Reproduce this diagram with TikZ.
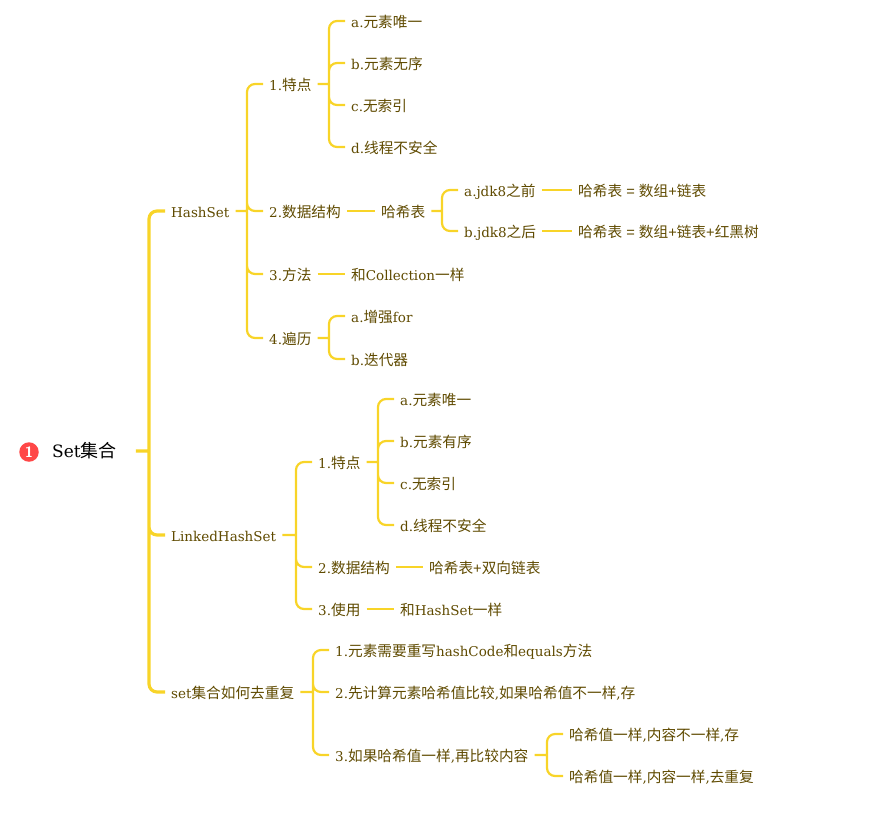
\documentclass[tikz,border=0pt]{standalone}
\usepackage{fontspec}
\setmainfont{DejaVu Serif}
\newfontfamily\cjk{Noto Sans CJK SC}
\newfontfamily\symf{Liberation Sans}
\newcommand{\zh}[1]{{\fontsize{14.67}{16}\cjk #1}}
\newcommand{\zhbig}[1]{{\fontsize{18}{20}\cjk #1}}
\newcommand{\sy}[1]{{\fontsize{14.67}{16}\symf #1}}
\usetikzlibrary{calc}
\definecolor{mapline}{HTML}{F8D428}
\definecolor{maptext}{HTML}{5F4A00}
\tikzset{
  item/.style={anchor=west,inner xsep=6pt,inner ysep=0pt,text height=13pt,text depth=0pt,
    text=maptext,font=\fontsize{13.5}{16}\selectfont},
  rootitem/.style={item,inner xsep=13pt,text=black,font=\fontsize{17}{20}\selectfont},
  badge/.style={circle,fill=red!72!white,text=white,inner sep=0pt,minimum size=19.5pt,
    font=\sffamily\bfseries\fontsize{15}{16}\selectfont},
  stub/.style={draw=mapline,line width=2.2pt},
  branch/.style={draw=mapline,line width=2.2pt,
    to path={(\tikztostart) -- ($(\tikztostart -| \tikztotarget)+(-16,0)$)
      ($(\tikztostart -| \tikztotarget)+(-16,0)$) [rounded corners=8pt]
      -- ($(\tikztotarget)+(-16,0)$) -- (\tikztotarget)}},
}
\begin{document}
\begin{tikzpicture}[x=1pt,y=-1pt]
  \useasboundingbox (0,0) rectangle (882,815);
  \node[badge] (mark) at (29,452) {1};
  \node[rootitem] (set) at (39,451) {Set\zhbig{集合}\kern6pt};
  % first level
  \node[item] (hash) at (165,211) {HashSet};
  \node[item] (linked) at (165,535) {LinkedHashSet};
  \node[item] (dedup) at (165,692) {set\zh{集合如何去重复}};
  % HashSet
  \node[item] (hfeat) at (263,84) {1.\zh{特点}};
  \node[item] (hdata) at (263,211) {2.\zh{数据结构}};
  \node[item] (hmeth) at (263,274) {3.\zh{方法}};
  \node[item] (hloop) at (263,338) {4.\zh{遍历}};
  \node[item] (hfa) at (345,21) {a.\zh{元素唯一}};
  \node[item] (hfb) at (345,63) {b.\zh{元素无序}};
  \node[item] (hfc) at (345,105) {c.\zh{无索引}};
  \node[item] (hfd) at (345,147) {d.\zh{线程不安全}};
  \node[item] (htable) at (375,211) {\zh{哈希表}};
  \node[item] (hbefore) at (458,190) {a.jdk8\zh{之前}};
  \node[item] (hafter) at (458,231) {b.jdk8\zh{之后}};
  \node[item] (hbeforeval) at (572,190) {\zh{哈希表}\sy{ = }\zh{数组}\sy{+}\zh{链表}};
  \node[item] (hafterval) at (572,231) {\zh{哈希表}\sy{ = }\zh{数组}\sy{+}\zh{链表}\sy{+}\zh{红黑树}};
  \node[item] (hsame) at (345,274) {\zh{和}Collection\zh{一样}};
  \node[item] (hla) at (345,316) {a.\zh{增强}for};
  \node[item] (hlb) at (345,359) {b.\zh{迭代器}};
  % LinkedHashSet
  \node[item] (lfeat) at (312,462) {1.\zh{特点}};
  \node[item] (ldata) at (312,567) {2.\zh{数据结构}};
  \node[item] (luse) at (312,609) {3.\zh{使用}};
  \node[item] (lfa) at (394,399) {a.\zh{元素唯一}};
  \node[item] (lfb) at (394,441) {b.\zh{元素有序}};
  \node[item] (lfc) at (394,483) {c.\zh{无索引}};
  \node[item] (lfd) at (394,525) {d.\zh{线程不安全}};
  \node[item] (ltable) at (423,567) {\zh{哈希表}\sy{+}\zh{双向链表}};
  \node[item] (lsame) at (394,609) {\zh{和}HashSet\zh{一样}};
  % duplicates
  \node[item] (done) at (329,650) {1.\zh{元素需要重写}hashCode\zh{和}equals\zh{方法}};
  \node[item] (dtwo) at (329,692) {2.\zh{先计算元素哈希值比较},\zh{如果哈希值不一样},\zh{存}};
  \node[item] (dthree) at (329,755) {3.\zh{如果哈希值一样},\zh{再比较内容}};
  \node[item] (dkeep) at (563,734) {\zh{哈希值一样},\zh{内容不一样},\zh{存}};
  \node[item] (ddrop) at (563,776) {\zh{哈希值一样},\zh{内容一样},\zh{去重复}};
  % connectors
  \draw[branch,line width=3.2pt] (set.east) to (hash.west) (set.east) to (linked.west) (set.east) to (dedup.west);
  \draw[branch] (hash.east) to (hfeat.west) (hash.east) to (hdata.west) (hash.east) to (hmeth.west) (hash.east) to (hloop.west);
  \draw[branch] (hfeat.east) to (hfa.west) (hfeat.east) to (hfb.west) (hfeat.east) to (hfc.west) (hfeat.east) to (hfd.west);
  \draw[stub] (hdata.east) -- (htable.west);
  \draw[branch] (htable.east) to (hbefore.west) (htable.east) to (hafter.west);
  \draw[stub] (hbefore.east) -- (hbeforeval.west);
  \draw[stub] (hafter.east) -- (hafterval.west);
  \draw[stub] (hmeth.east) -- (hsame.west);
  \draw[branch] (hloop.east) to (hla.west) (hloop.east) to (hlb.west);
  \draw[branch] (linked.east) to (lfeat.west) (linked.east) to (ldata.west) (linked.east) to (luse.west);
  \draw[branch] (lfeat.east) to (lfa.west) (lfeat.east) to (lfb.west) (lfeat.east) to (lfc.west) (lfeat.east) to (lfd.west);
  \draw[stub] (ldata.east) -- (ltable.west);
  \draw[stub] (luse.east) -- (lsame.west);
  \draw[branch] (dedup.east) to (done.west) (dedup.east) to (dtwo.west) (dedup.east) to (dthree.west);
  \draw[branch] (dthree.east) to (dkeep.west) (dthree.east) to (ddrop.west);
\end{tikzpicture}
\end{document}
